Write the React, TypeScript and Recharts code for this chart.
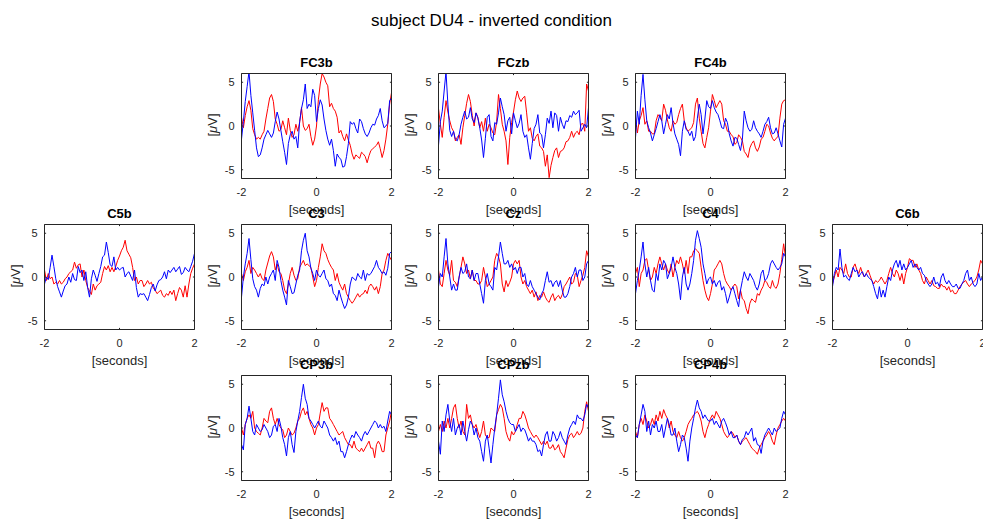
import React from 'react';
import { LineChart, Line, XAxis, YAxis } from 'recharts';

// sample times in seconds
const time = [
  -2, -1.95, -1.9, -1.85, -1.8, -1.75, -1.7, -1.65, -1.6, -1.55,
  -1.5, -1.45, -1.4, -1.35, -1.3, -1.25, -1.2, -1.15, -1.1, -1.05,
  -1, -0.95, -0.9, -0.85, -0.8, -0.75, -0.7, -0.65, -0.6, -0.55,
  -0.5, -0.45, -0.4, -0.35, -0.3, -0.25, -0.2, -0.15, -0.1, -0.05,
  0, 0.05, 0.1, 0.15, 0.2, 0.25, 0.3, 0.35, 0.4, 0.45,
  0.5, 0.55, 0.6, 0.65, 0.7, 0.75, 0.8, 0.85, 0.9, 0.95,
  1, 1.05, 1.1, 1.15, 1.2, 1.25, 1.3, 1.35, 1.4, 1.45,
  1.5, 1.55, 1.6, 1.65, 1.7, 1.75, 1.8, 1.85, 1.9, 1.95,
  2,
];

const xTicks = [-2, 0, 2];
const yTicks = [-5, 0, 5];

// µV traces, one red and one blue per channel
const fc3bBlue = [-1.5,0.5,2.8,4.5,6.2,3.5,1.5,-0.5,-2.5,-3.5,-3.3,-2.5,-1.5,-1.0,-0.5,-0.9,-1.3,-0.8,0.5,1.6,0.8,-0.5,-1.8,-3.0,-4.4,-2.0,-1.0,-0.6,-1.5,-1.2,-2.5,0.5,2.0,3.0,4.8,2.0,2.5,2.2,4.2,3.5,0.5,2.0,3.0,2.4,0.8,-0.5,-1.5,-2.2,-1.5,-2.8,-4.6,-3.2,-3.6,-3.8,-4.7,-4.6,-3.5,-2.0,0.5,0.2,0.4,-0.3,-0.8,0.8,0.5,-0.3,-0.9,-1.2,-0.8,-0.2,0.2,0.1,0.8,1.2,2.0,0.6,-0.2,0.0,0.3,2.9,3.2];
const fc3bRed = [1.0,-0.2,1.2,2.2,2.9,1.8,-0.3,-1.0,-1.5,-1.3,-1.5,-1.0,-0.6,0.8,2.0,3.2,3.6,2.8,0.8,0.2,-0.6,-0.4,0.6,-0.2,-1.0,0.9,-0.5,-1.3,-1.0,0.2,-0.6,0.4,2.1,0.0,-0.5,-0.3,0.2,-1.2,-2.2,-1.5,0.0,3.0,4.8,6.0,5.6,5.0,4.6,2.2,2.6,2.0,1.7,1.0,-0.8,-0.5,-1.2,-1.7,-0.9,-1.6,-2.2,-3.2,-3.8,-3.3,-3.5,-3.7,-3.0,-3.2,-3.5,-4.2,-3.4,-2.8,-2.6,-2.4,-2.2,-1.8,-2.6,-3.6,-2.8,-1.5,0.2,2.5,3.8];

const fczbBlue = [-2.2,0.5,1.7,4.0,6.2,2.5,-0.5,-1.2,-0.6,-1.5,-1.7,-1.0,0.2,1.0,1.7,0.8,1.0,2.1,0.8,0.4,1.5,0.9,-0.2,-1.6,-3.6,-1.4,1.0,1.3,-1.2,-1.7,0.4,0.2,1.5,3.2,2.2,1.3,-0.6,0.6,1.0,-0.9,1.5,0.6,-0.2,0.3,1.3,-0.6,-1.3,-1.0,-2.5,-3.8,-2.0,-0.3,0.2,1.3,-0.8,-1.0,-2.5,-1.0,0.9,0.3,1.7,-0.2,1.5,1.2,-0.6,1.0,0.2,-0.3,0.6,0.5,1.2,1.0,1.7,1.3,1.5,1.8,-0.6,-0.2,0.2,-0.2,2.1];
const fczbRed = [2.0,0.2,-1.3,1.0,2.9,1.6,0.6,-0.2,-0.6,-1.7,-1.3,-1.0,-2.1,-0.2,1.2,2.6,3.6,2.8,1.2,0.0,1.5,1.0,-0.2,0.5,-0.6,0.9,-0.6,0.2,-0.2,-0.8,-1.0,0.5,3.6,2.0,0.2,-0.6,-1.7,-4.4,-1.3,0.4,1.6,3.0,4.0,3.2,2.8,3.2,3.4,1.5,-0.6,-0.2,-1.4,-1.7,-1.2,-0.9,-2.3,-2.5,-2.9,-4.6,-3.3,-5.9,-4.5,-3.6,-2.8,-2.5,-3.6,-2.9,-2.8,-2.5,-1.8,-1.7,-1.3,-0.6,-1.3,-0.8,-0.6,-1.0,0.2,0.3,-0.6,4.8,4.0];

const fc4bBlue = [-1.3,1.7,0.2,3.5,5.9,3.0,0.6,-0.2,-0.8,-1.7,-1.0,-0.3,0.5,1.3,0.6,-0.9,0.2,1.3,0.8,2.1,0.3,-0.9,-1.5,-2.1,-3.4,-0.6,0.6,-0.4,-0.6,-1.1,-0.6,-1.7,-1.2,0.9,2.5,1.3,-0.9,0.8,2.9,2.2,2.0,2.9,2.1,1.6,1.3,0.6,-0.2,-0.3,0.9,0.4,-0.9,-1.7,-2.3,-1.3,-1.4,-2.1,-2.8,-1.5,1.7,0.6,-0.2,-0.6,-0.4,0.6,-0.2,-0.6,-0.9,-1.3,-0.6,0.2,0.5,1.0,-0.2,-0.9,-0.8,-0.2,-0.9,-1.7,-2.4,0.2,0.9];
const fc4bRed = [1.0,-0.8,0.6,1.2,2.1,0.2,0.6,-0.6,-0.6,-0.9,-0.9,0.6,1.3,1.0,0.6,2.5,1.8,0.7,-0.2,-0.6,0.6,0.2,0.4,1.3,2.0,2.5,0.6,-0.2,-0.6,-0.4,-0.2,0.4,2.5,3.2,0.9,-0.6,-2.0,-2.5,-1.3,-0.2,1.7,3.6,2.9,2.1,2.5,2.9,2.5,0.6,0.2,-0.6,-0.6,-1.0,-1.2,-2.1,-1.9,-1.0,-1.3,-1.7,-2.9,-3.2,-3.6,-2.5,-2.0,-1.7,-2.5,-2.9,-2.4,-1.5,-1.3,-0.6,0.2,0.0,-0.8,-1.4,-1.7,-1.4,-1.2,0.9,2.5,2.9,3.0];

const c5bBlue = [-0.8,0.0,-0.3,1.1,2.5,1.2,-0.2,-1.1,-1.7,-2.3,-1.6,-1.0,-0.8,0.0,-0.6,0.4,-0.3,-0.4,1.2,0.5,0.8,-0.4,0.6,-1.2,-2.3,-0.2,0.8,0.2,-0.5,0.4,1.2,2.3,2.5,4.0,2.8,1.4,1.2,2.3,0.8,1.1,0.8,1.0,1.1,0.0,0.4,0.6,0.1,-0.4,0.8,-1.2,-2.3,-1.9,-2.0,-1.9,-2.3,-2.7,-2.0,-1.2,-0.8,-1.6,-0.9,-0.4,-0.3,0.0,0.6,-0.2,0.8,0.5,0.8,1.1,0.6,0.9,1.2,0.3,0.5,1.1,0.8,0.6,1.2,1.8,2.7];
const c5bRed = [0.8,-0.4,0.4,-0.2,0.0,-0.8,-0.6,-0.8,-0.4,-0.8,-0.6,-0.2,0.0,0.4,0.6,0.8,1.7,1.0,1.4,1.5,0.0,0.8,-0.4,-1.2,-1.6,-2.0,-0.8,-1.5,-1.0,-0.8,-0.6,0.4,1.2,0.8,1.3,0.6,1.1,0.6,1.2,1.9,2.4,3.0,3.4,4.2,3.0,2.6,2.2,1.1,-0.4,0.0,-0.8,-0.4,-0.4,-1.1,-0.8,-0.4,-0.8,-0.6,-1.3,-1.5,-1.9,-1.7,-1.5,-2.1,-2.3,-1.9,-2.1,-1.6,-2.0,-1.5,-2.7,-1.9,-1.2,-1.5,-2.3,-1.0,-2.3,-0.8,0.4,1.0,1.5];

const c3Blue = [-2.3,0.0,1.5,2.7,4.4,2.0,-0.2,-1.1,-1.5,-2.3,-1.3,-0.8,-1.0,0.0,-0.8,0.0,0.4,0.8,-0.4,1.9,1.1,-0.4,-1.5,-2.3,-3.2,-0.4,-1.1,-1.9,-1.8,-0.8,0.2,0.8,3.0,4.2,5.0,3.0,2.3,1.0,0.4,-0.4,0.8,0.2,0.0,0.4,0.8,-0.2,-0.4,-1.1,-0.8,-1.9,-2.1,-2.7,-1.5,-2.3,-3.0,-3.6,-3.2,-2.3,-0.8,0.0,-0.2,-0.4,0.4,0.0,-0.2,0.8,-0.4,0.4,0.2,0.4,0.8,1.2,1.9,1.1,0.8,0.4,0.6,0.2,1.0,2.7,2.9];
const c3Red = [0.4,-0.4,0.6,1.1,1.9,0.4,1.1,0.8,0.4,0.0,0.4,-0.2,-0.4,0.8,1.6,2.4,2.9,2.3,0.8,1.5,0.6,0.4,-0.4,-1.5,-1.9,-0.8,0.4,1.1,0.2,-0.4,-0.2,1.1,1.5,1.9,1.3,1.5,1.3,1.1,0.0,-1.1,-0.4,1.1,2.3,3.8,3.0,2.7,2.0,1.5,1.1,0.8,-0.4,0.4,-0.6,-1.1,-1.5,-0.8,-1.9,-2.3,-2.7,-3.0,-2.7,-2.3,-1.9,-2.3,-2.0,-1.9,-1.5,-1.9,-1.1,-0.8,-1.1,-1.5,-1.1,-1.9,-1.1,0.4,0.8,1.9,2.7,2.3,1.9];

const czBlue = [-1.1,0.4,0.0,2.3,4.4,1.5,0.0,-1.5,-0.8,-1.5,-1.5,0.0,1.1,0.4,0.6,1.5,0.0,-0.2,0.8,-0.4,0.4,0.4,-0.8,-1.9,-3.0,-0.4,0.4,-0.8,-1.1,-1.5,1.1,0.8,2.3,4.0,2.7,1.5,1.5,1.9,1.1,1.5,0.8,1.1,0.4,1.1,1.1,0.0,0.4,-0.8,-1.1,-0.4,-1.1,-1.5,-1.9,-2.3,-2.6,-1.9,-1.5,-0.4,0.6,-0.6,-0.4,-1.1,-0.6,-0.4,-1.1,-0.4,-1.5,-2.3,-2.3,-1.9,-1.1,0.0,0.4,1.1,0.0,0.8,0.8,-0.4,0.0,1.5,1.9];
const czRed = [0.8,-0.8,-1.1,0.4,1.9,0.8,0.2,1.9,-0.4,-0.6,-1.1,0.0,1.1,2.3,1.5,0.4,0.8,-0.2,0.8,-0.4,-0.4,-0.8,-0.8,-0.4,1.1,0.0,-1.1,-0.8,-0.4,0.0,1.9,2.7,2.3,1.5,-0.8,-1.7,-0.4,-1.1,-0.6,0.0,1.5,1.9,1.5,1.9,0.0,-0.8,-0.4,-1.1,-1.5,-1.9,-1.5,-2.3,-1.7,-2.7,-2.1,-2.3,-1.7,-2.3,-2.7,-2.9,-2.3,-1.9,-2.7,-2.3,-2.1,-2.5,-2.0,-1.1,-0.8,-0.4,0.0,-0.8,-0.6,0.4,0.2,-1.1,-0.4,0.2,1.1,3.0,2.3];

const c4Blue = [-1.9,-0.4,0.8,2.3,4.0,1.5,0.0,1.1,-0.4,-1.5,-1.7,0.4,-0.4,1.5,0.8,1.9,1.5,-0.2,0.4,1.1,2.3,1.1,0.4,-0.8,-2.6,0.0,1.1,-0.8,-1.5,-0.8,0.4,1.9,4.2,5.3,4.4,3.4,1.5,0.4,-0.8,-0.2,0.0,-0.8,-0.4,-1.1,-0.6,-0.4,-1.5,-1.1,-1.9,-3.0,-2.3,-1.5,-1.1,-1.9,-2.7,-3.4,-1.5,-0.4,0.6,0.0,-0.4,0.4,0.0,-0.4,-1.1,-1.5,-0.8,0.4,0.8,-0.4,-0.2,0.4,1.5,1.9,1.5,1.1,0.8,1.1,1.5,2.7,2.3];
const c4Red = [0.4,1.1,-1.1,0.4,0.8,1.9,2.1,0.8,-0.4,0.0,1.1,0.4,1.5,2.3,1.5,0.8,1.5,0.8,0.4,1.5,0.0,1.1,1.9,1.5,2.3,1.5,0.4,1.9,0.4,2.3,2.3,3.0,3.2,3.0,2.7,1.1,-0.4,-1.5,-2.3,-2.7,-1.9,-0.8,0.8,1.1,1.5,1.9,1.5,0.4,-0.4,-0.8,-1.1,-1.5,-1.1,-0.8,-1.1,-2.5,-1.5,-2.5,-2.7,-3.6,-4.2,-3.0,-2.5,-2.7,-2.9,-1.9,-2.1,-1.5,-1.1,-0.4,-0.6,-1.1,-1.3,-0.4,-1.1,-1.3,-0.8,0.4,2.0,3.8,2.3];

const c6bBlue = [-1.1,0.4,1.1,0.8,3.2,1.1,0.0,0.2,-0.2,-0.4,0.4,1.1,0.6,0.8,0.0,0.4,0.6,0.0,0.4,0.0,-0.2,-0.4,-1.1,-1.9,-2.5,-1.1,-2.3,-1.5,-2.3,-1.1,0.0,-0.4,0.8,1.5,1.9,1.1,1.9,0.8,1.5,0.8,1.1,1.5,1.9,1.1,1.5,1.1,0.8,1.1,0.4,0.2,-0.4,-0.8,-1.1,-0.8,0.0,-0.8,-0.6,-1.1,0.0,0.4,-0.4,-0.8,-0.4,-0.8,-1.1,-1.1,-0.8,-1.3,-1.3,-0.8,-0.4,0.4,0.8,-0.4,0.0,-0.8,-1.1,-0.8,0.4,-0.4,0.0];
const c6bRed = [-0.8,0.0,0.8,0.0,1.1,0.8,0.4,1.5,0.4,0.0,0.0,1.1,1.5,0.8,0.4,1.1,0.4,0.0,0.4,0.8,0.2,-0.4,-0.8,-0.4,-0.6,-0.4,0.0,-0.4,-0.8,-0.4,0.4,1.1,0.4,0.0,0.8,0.4,-0.4,0.4,-0.8,0.4,1.1,2.1,1.9,1.9,1.1,1.5,0.8,0.4,-0.4,-0.8,0.0,-0.4,-0.8,-0.4,-1.0,-1.1,-1.3,-1.3,-0.8,-1.1,-1.1,-1.5,-1.1,-1.7,-1.5,-1.9,-1.9,-1.5,-1.1,-0.8,-0.6,-0.4,-0.8,-1.1,-0.8,-0.6,-0.4,0.0,0.8,1.9,1.5];

const cp3bBlue = [-1.9,-2.5,0.4,1.1,2.5,1.1,-0.4,-0.8,0.4,0.0,-0.4,-0.2,0.4,0.0,-0.4,-1.1,-0.8,0.2,0.4,-0.4,1.1,0.2,-1.1,-1.9,-3.2,-1.1,-0.4,-1.9,-2.8,-0.4,0.8,1.9,3.5,5.0,3.4,2.7,1.1,0.8,0.4,0.0,0.4,0.8,0.2,0.0,0.8,0.4,0.0,-0.8,-1.1,-1.5,-1.1,-1.9,-1.5,-2.7,-2.7,-3.4,-2.7,-1.9,-1.3,-0.8,-1.1,-0.4,-0.8,-1.1,-1.5,-0.8,-0.4,-0.8,-0.4,0.0,0.4,0.8,0.6,0.0,0.4,0.0,0.2,-0.4,0.8,1.9,1.5];
const cp3bRed = [0.0,-0.8,0.4,1.1,1.5,1.1,1.9,0.0,-0.4,-0.6,-0.8,0.0,1.1,0.8,0.6,1.9,2.3,1.1,0.4,1.1,0.4,0.0,-0.2,-1.1,-0.8,0.0,-0.4,-0.8,-0.6,0.0,0.8,1.1,1.9,2.3,1.5,1.9,1.1,0.4,0.0,-0.8,0.0,0.4,1.7,2.9,1.9,2.3,2.3,1.1,0.8,0.4,0.0,-0.4,-0.8,-0.6,-0.4,-1.1,-1.5,-1.9,-1.9,-2.3,-1.5,-2.3,-2.5,-2.7,-2.3,-2.7,-2.3,-1.9,-1.5,-2.3,-2.3,-3.4,-1.9,-1.5,-1.9,-2.7,-2.7,-0.8,0.0,0.8,1.9];

const cpzbBlue = [-1.5,-3.0,0.8,-0.4,1.5,2.7,0.8,-0.4,1.1,-0.8,0.0,0.4,-0.8,0.8,-0.4,-1.5,-0.2,0.8,0.4,-0.8,0.0,-1.1,-1.5,-2.7,-3.8,-1.5,-0.8,-2.3,-4.0,-1.9,0.0,1.5,3.4,5.5,3.8,3.0,1.9,1.1,0.6,0.4,0.4,-0.4,0.0,0.4,-0.4,0.0,-0.2,-0.8,-1.5,-1.1,-1.5,-1.5,-1.9,-2.7,-2.5,-3.2,-1.9,-0.8,-0.4,-1.5,-1.5,-0.4,-0.8,-1.5,-1.1,-0.4,-1.1,-1.5,-1.9,-0.8,0.0,0.4,0.8,0.4,1.5,1.1,1.1,0.8,1.5,2.7,2.3];
const cpzbRed = [-0.4,0.4,-0.4,0.8,0.0,1.1,0.0,1.1,2.3,2.7,1.1,0.0,0.8,-0.4,-0.8,2.7,1.1,1.5,0.4,0.0,0.4,-0.4,-1.1,-0.4,0.8,-0.8,-1.1,-1.1,0.0,-0.2,-0.4,1.5,2.1,2.7,2.3,1.1,-0.4,-1.1,-1.5,-0.4,-0.8,-0.4,0.4,1.1,1.1,1.9,1.5,0.8,0.0,-0.4,-0.8,-1.1,-0.8,-1.1,-1.5,-1.9,-1.5,-1.9,-1.5,-2.3,-2.3,-1.9,-2.5,-2.3,-1.9,-2.7,-3.0,-3.4,-2.3,-1.3,-0.8,-0.6,-1.1,-0.8,-0.4,-0.8,-0.6,0.0,1.9,3.0,1.9];

const cp4bBlue = [-0.8,-1.1,0.4,1.5,2.7,1.9,-0.4,0.8,-0.8,0.4,0.0,0.8,-0.4,-0.4,0.4,-1.1,0.0,1.1,0.4,-0.8,-0.8,0.0,-1.5,-2.7,-1.9,-0.8,-1.1,-2.3,-3.8,-1.5,0.0,1.1,2.3,3.2,2.3,1.9,1.1,1.5,1.1,0.8,0.8,1.1,0.4,0.8,0.4,0.0,0.8,1.1,0.6,0.0,-0.8,-0.4,-1.1,-1.1,-0.8,-1.5,-1.9,-1.3,-1.1,-0.4,-0.8,-0.4,0.0,-1.5,-1.1,-1.9,-2.0,-2.9,-1.5,-0.8,-0.4,0.0,-0.4,-0.8,0.0,-0.4,-0.2,0.0,1.1,1.9,1.5];
const cp4bRed = [-0.4,-1.1,0.4,1.1,0.4,1.5,0.8,0.0,0.4,1.1,0.4,1.5,0.8,1.9,1.1,2.1,1.5,1.1,0.0,0.8,-0.4,-0.8,-1.1,-0.4,-1.1,-1.5,-1.1,-0.4,0.4,0.8,1.1,1.5,1.7,1.9,1.5,0.8,-0.4,-1.1,-0.2,0.4,1.1,1.5,1.1,1.9,1.5,1.1,0.4,-0.4,-0.8,-1.1,-0.8,-0.4,-0.6,-1.1,-0.8,-1.5,-1.9,-1.5,-1.3,-1.1,-1.5,-1.9,-2.3,-2.5,-2.7,-3.0,-2.3,-1.9,-1.5,-1.1,-0.8,-0.4,-0.8,-1.5,-1.9,-0.8,0.0,0.4,0.8,1.1,0.8];

const channelNames = ['FC3b', 'FCzb', 'FC4b', 'C5b', 'C3', 'Cz', 'C4', 'C6b', 'CP3b', 'CPzb', 'CP4b'];
const redTraces = [fc3bRed, fczbRed, fc4bRed, c5bRed, c3Red, czRed, c4Red, c6bRed, cp3bRed, cpzbRed, cp4bRed];
const blueTraces = [fc3bBlue, fczbBlue, fc4bBlue, c5bBlue, c3Blue, czBlue, c4Blue, c6bBlue, cp3bBlue, cpzbBlue, cp4bBlue];

// grid slot (row, column) of each channel in the montage layout
const slots: [number, number][] = [
  [0, 1], [0, 2], [0, 3],
  [1, 0], [1, 1], [1, 2], [1, 3], [1, 4],
  [2, 1], [2, 2], [2, 3],
];

const COL_LEFT = [44, 241, 438, 635, 832];
const ROW_TOP = [73, 224, 375];

const AXIS = '#262626';
const FONT = '"Liberation Sans", Arial, Helvetica, sans-serif';
const PW = 150;
const PH = 105;
const TL = 1.6;
const LEFT_W = 42;
const RIGHT_W = 8;
const TOP_H = 30;
const BOTTOM_H = 40;
const MARGIN = { top: 0.5, right: 0.5, bottom: 0.5, left: 0.5 };
const CHART_W = LEFT_W + PW + RIGHT_W + 1;
const CHART_H = TOP_H + PH + BOTTOM_H + 1;

function BottomTick(props: any) {
  const { x, y, payload } = props;
  return (
    <g>
      <line x1={x} y1={y} x2={x} y2={y - TL} stroke={AXIS} strokeWidth={1} />
      <line x1={x} y1={y - PH} x2={x} y2={y - PH + TL} stroke={AXIS} strokeWidth={1} />
      <text x={x} y={y + 17} textAnchor="middle" fontSize={11} fill={AXIS} fontFamily={FONT}>
        {payload.value}
      </text>
    </g>
  );
}

function LeftTick(props: any) {
  const { x, y, payload } = props;
  return (
    <g>
      <line x1={x} y1={y} x2={x + TL} y2={y} stroke={AXIS} strokeWidth={1} />
      <line x1={x + PW} y1={y} x2={x + PW - TL} y2={y} stroke={AXIS} strokeWidth={1} />
      <text x={x - 7} y={y + 4} textAnchor="end" fontSize={11} fill={AXIS} fontFamily={FONT}>
        {payload.value}
      </text>
    </g>
  );
}

function TitleLabel(props: any) {
  const { viewBox, text } = props;
  const { x, y, width, height } = viewBox;
  return (
    <text x={x + width / 2} y={y + height - 7} textAnchor="middle" fontSize={13} fontWeight="bold" fill="#000" fontFamily={FONT}>
      {text}
    </text>
  );
}

function XLabel(props: any) {
  const { viewBox } = props;
  const { x, y, width } = viewBox;
  return (
    <text x={x + width / 2} y={y + 35} textAnchor="middle" fontSize={13} fill={AXIS} fontFamily={FONT}>
      [seconds]
    </text>
  );
}

function YLabel(props: any) {
  const { viewBox } = props;
  const { x, y, width, height } = viewBox;
  const cx = x + width - 24.5;
  const cy = y + height / 2 - 1;
  return (
    <text x={cx} y={cy} transform={`rotate(-90 ${cx} ${cy})`} textAnchor="middle" fontSize={13} fill={AXIS} fontFamily={FONT}>
      [<tspan fontStyle="italic">μ</tspan>V]
    </text>
  );
}

function Panel({ title, red, blue, left, top }: { title: string; red: number[]; blue: number[]; left: number; top: number }) {
  const data = time.map((t, i) => ({ t, red: red[i], blue: blue[i] }));
  return (
    <div style={{ position: 'absolute', left: left - LEFT_W, top: top - TOP_H, width: CHART_W, height: CHART_H }}>
      <LineChart width={CHART_W} height={CHART_H} data={data} margin={MARGIN}>
        <XAxis
          dataKey="t"
          type="number"
          domain={[-2, 2]}
          ticks={xTicks}
          interval={0}
          allowDataOverflow
          height={BOTTOM_H}
          tickSize={0}
          tickMargin={0}
          tickLine={false}
          axisLine={{ stroke: AXIS, strokeWidth: 1 }}
          tick={<BottomTick />}
          label={<XLabel />}
        />
        <XAxis
          xAxisId="top"
          orientation="top"
          dataKey="t"
          type="number"
          domain={[-2, 2]}
          allowDataOverflow
          height={TOP_H}
          tick={false}
          tickLine={false}
          axisLine={{ stroke: AXIS, strokeWidth: 1 }}
          label={<TitleLabel text={title} />}
        />
        <YAxis
          type="number"
          domain={[-6, 6]}
          ticks={yTicks}
          interval={0}
          allowDataOverflow
          width={LEFT_W}
          tickSize={0}
          tickMargin={0}
          tickLine={false}
          axisLine={{ stroke: AXIS, strokeWidth: 1 }}
          tick={<LeftTick />}
          label={<YLabel />}
        />
        <YAxis
          yAxisId="right"
          orientation="right"
          type="number"
          domain={[-6, 6]}
          allowDataOverflow
          width={RIGHT_W}
          tick={false}
          tickLine={false}
          axisLine={{ stroke: AXIS, strokeWidth: 1 }}
        />
        <Line type="linear" dataKey="red" stroke="#ff0000" strokeWidth={1} dot={false} activeDot={false} isAnimationActive={false} />
        <Line type="linear" dataKey="blue" stroke="#0000ff" strokeWidth={1} dot={false} activeDot={false} isAnimationActive={false} />
      </LineChart>
    </div>
  );
}

export default function App() {
  return (
    <div
      style={{
        position: 'absolute',
        left: 0,
        top: 0,
        width: 983,
        height: 520,
        overflow: 'hidden',
        background: '#fff',
        fontFamily: FONT,
      }}
    >
      <svg width={983} height={40} style={{ position: 'absolute', left: 0, top: 0 }}>
        <text x={491.5} y={25.5} textAnchor="middle" fontSize={17} fill="#000" fontFamily={FONT}>
          subject DU4 - inverted condition
        </text>
      </svg>
      {channelNames.map((name, i) => (
        <Panel
          key={name}
          title={name}
          red={redTraces[i]}
          blue={blueTraces[i]}
          left={COL_LEFT[slots[i][1]]}
          top={ROW_TOP[slots[i][0]]}
        />
      ))}
    </div>
  );
}
